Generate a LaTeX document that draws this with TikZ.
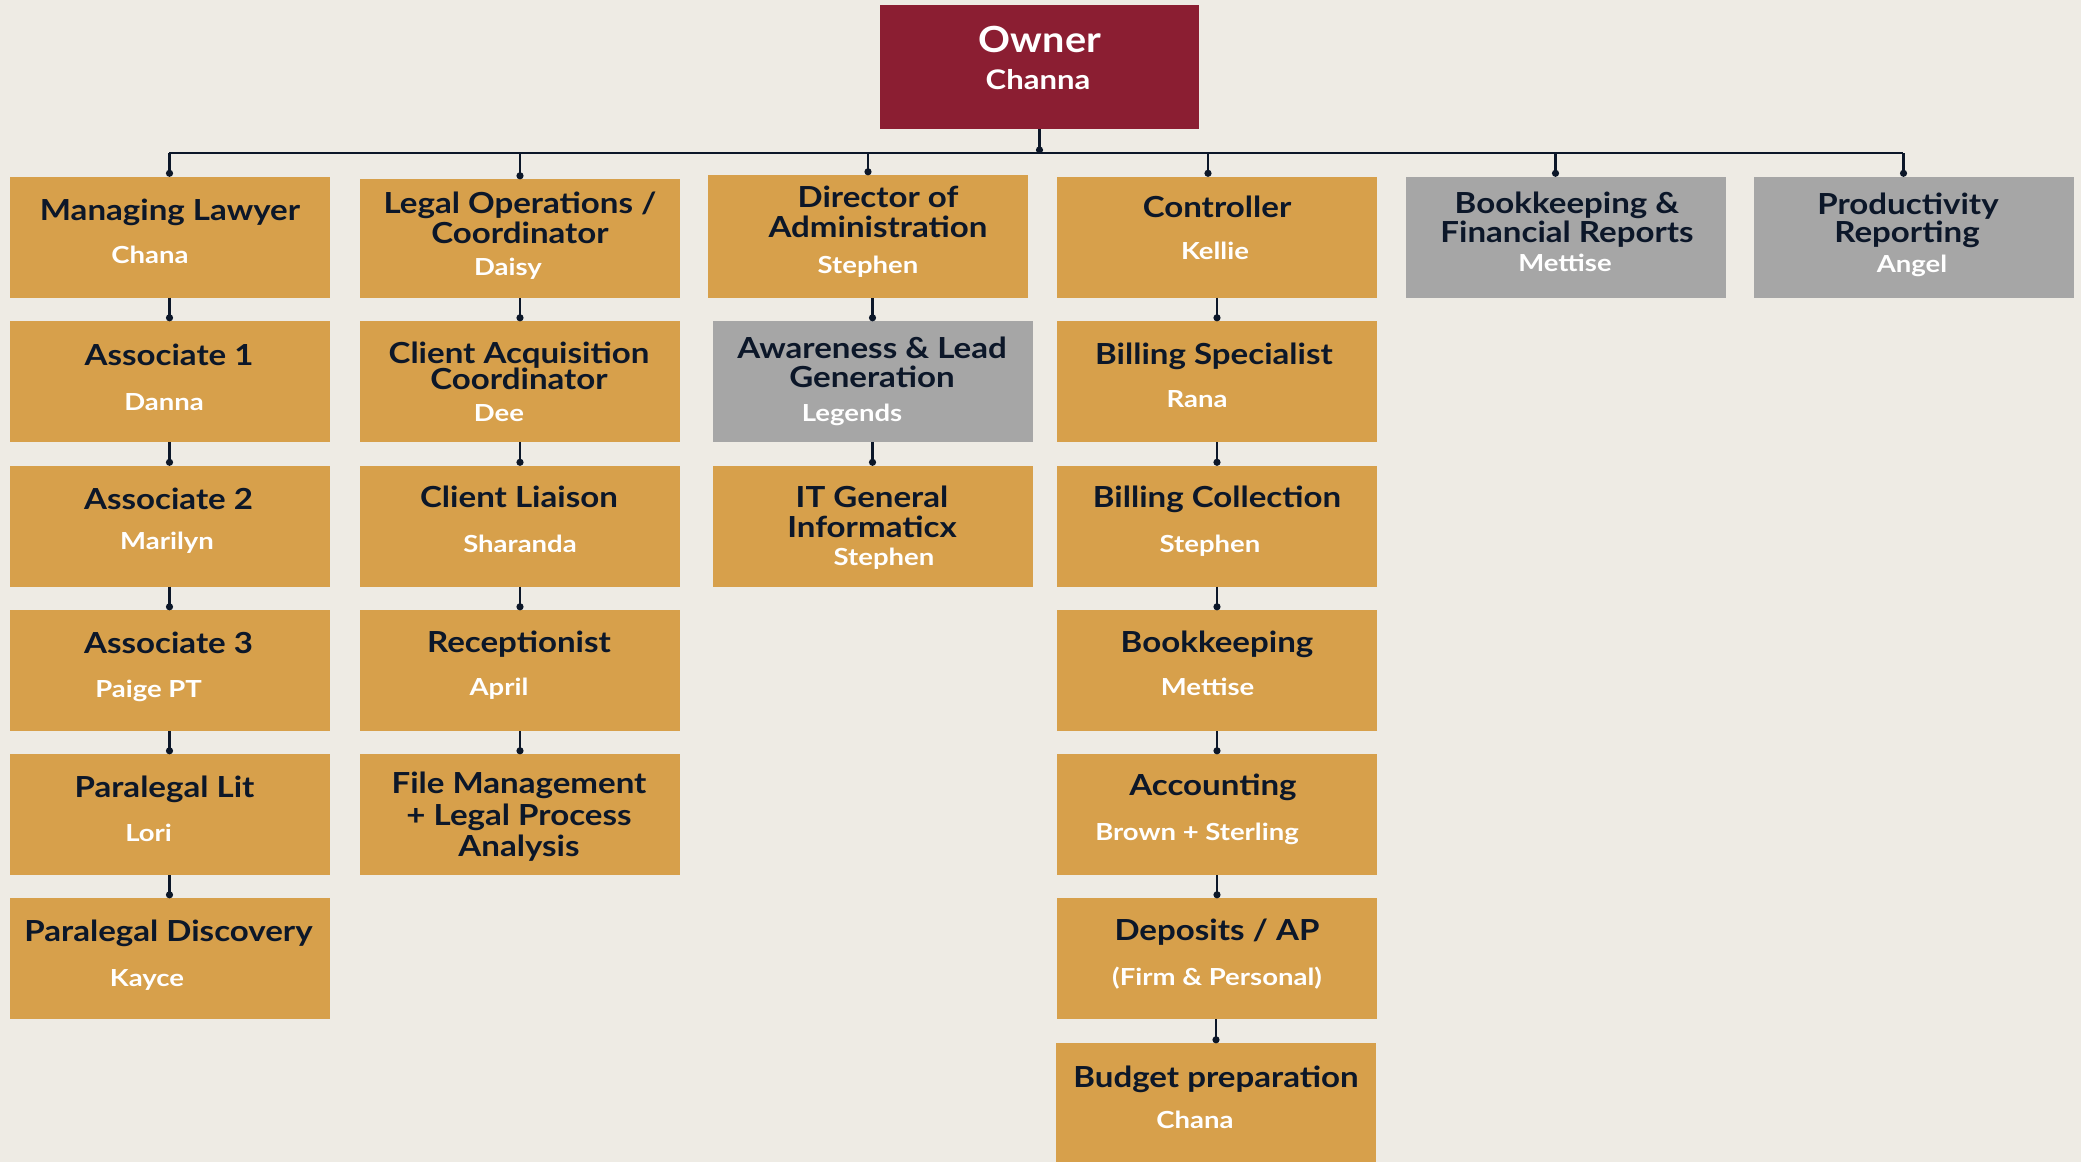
\documentclass[tikz,border=0pt]{standalone}
\usepackage{fontspec}
\setmainfont{Lato}
\newfontfamily\ttlfont[FakeStretch=1.14]{Lato}
\newfontfamily\nmfont[FakeStretch=1.17]{Lato}
\newfontfamily\owfont[FakeStretch=1.1]{Lato}
\newfontfamily\ownfont[FakeStretch=1.15]{Lato}
\usetikzlibrary{calc}
\definecolor{bg}{HTML}{EEEBE4}
\definecolor{gold}{HTML}{D7A04B}
\definecolor{crimson}{HTML}{8B1E32}
\definecolor{greybox}{HTML}{A6A6A6}
\definecolor{navy}{HTML}{0C1729}
\newcommand{\lbl}[4][ttl]{\node[#1] (#2) at (#3) {#4};}
\newcommand{\linkbox}[2]{\draw[conn] (#2.north |- #1.south) -- (#2.north);\fill[navy] ($(#2.north)+(0,-3)$) circle (3.6pt);}
\begin{document}
\begin{tikzpicture}[x=1pt,y=-1pt,
  box/.style={draw=none, inner sep=0pt, minimum width=320pt, minimum height=121pt},
  gbox/.style={box, fill=gold},
  ybox/.style={box, fill=greybox},
  rbox/.style={box, fill=crimson},
  ttl/.style={font=\ttlfont\bfseries\fontsize{29}{30}\selectfont, text=navy, anchor=base, inner sep=0pt, yshift=-10.3pt},
  nm/.style={font=\nmfont\bfseries\fontsize{23.5}{24}\selectfont, text=white, anchor=base, inner sep=0pt, yshift=-8.4pt},
  ownt/.style={font=\owfont\bfseries\fontsize{36}{38}\selectfont, text=white, anchor=base, inner sep=0pt, yshift=-12.8pt},
  ownn/.style={font=\ownfont\bfseries\fontsize{27}{28}\selectfont, text=white, anchor=base, inner sep=0pt, yshift=-9.7pt},
  conn/.style={draw=navy, line width=2.5pt}]
\fill[bg] (0,0) rectangle (2081,1162);
\useasboundingbox (0,0) rectangle (2081,1162);

% ---- boxes
\node[rbox, minimum width=319pt, minimum height=124pt] (ow) at (1039.5,67) {};
\node[gbox] (ml) at (169.5,237) {};
\node[gbox, minimum height=119pt] (lo) at (520,238.5) {};
\node[gbox, minimum height=123pt] (da) at (868,236.5) {};
\node[gbox] (co) at (1217,237) {};
\node[ybox] (bf) at (1565.5,237) {};
\node[ybox] (pr) at (1913.5,237) {};

\node[gbox] (a1) at (169.5,381.5) {};
\node[gbox] (ca) at (520,381.5) {};
\node[ybox] (aw) at (872.5,381.5) {};
\node[gbox] (bs) at (1217,381.5) {};

\node[gbox] (a2) at (169.5,526) {};
\node[gbox] (cl) at (520,526) {};
\node[gbox] (it) at (872.5,526) {};
\node[gbox] (bc) at (1217,526) {};

\node[gbox] (a3) at (169.5,670.5) {};
\node[gbox] (re) at (520,670.5) {};
\node[gbox] (bk) at (1217,670.5) {};

\node[gbox] (pl) at (169.5,814.5) {};
\node[gbox] (fm) at (520,814.5) {};
\node[gbox] (ac) at (1217,814.5) {};

\node[gbox] (pd) at (169.5,958.5) {};
\node[gbox] (dp) at (1217,958.5) {};

\node[gbox, minimum height=119pt] (bp) at (1216,1102.5) {};

% ---- connectors
\coordinate (busL) at (169,153);
\coordinate (busR) at (1903,153);
\draw[conn] (busL) -- (busR);
\draw[conn] (ow.south) -- (ow.south |- busL);
\fill[navy] ($(ow.south |- busL)+(0,-3)$) circle (3.6pt);
\coordinate (d-ml) at (ml.north);
\coordinate (d-lo) at (lo.north);
\coordinate (d-da) at (da.north);
\coordinate (d-co) at ($(co.north)+(-9,0)$);
\coordinate (d-bf) at ($(bf.north)+(-10,0)$);
\coordinate (d-pr) at ($(pr.north)+(-10,0)$);
\foreach \d in {d-ml,d-lo,d-da,d-co,d-bf,d-pr}{
  \draw[conn] (\d |- busL) -- (\d);
  \fill[navy] ($(\d)+(0,-3)$) circle (3.6pt);
}
\linkbox{ml}{a1}\linkbox{a1}{a2}\linkbox{a2}{a3}\linkbox{a3}{pl}\linkbox{pl}{pd}
\linkbox{lo}{ca}\linkbox{ca}{cl}\linkbox{cl}{re}\linkbox{re}{fm}
\linkbox{da}{aw}\linkbox{aw}{it}
\linkbox{co}{bs}\linkbox{bs}{bc}\linkbox{bc}{bk}\linkbox{bk}{ac}\linkbox{ac}{dp}\linkbox{dp}{bp}

% ---- texts
\lbl[ownt]{ow-t}{1040,40}{Owner}
\lbl[ownn]{ow-n}{1038,80}{Channa}

\lbl{ml-t}{170,210}{Managing Lawyer}
\lbl[nm]{ml-n}{150,255}{Chana}
\lbl{lo-t1}{520,203}{Legal Operations /}
\lbl{lo-t2}{520,233.5}{Coordinator}
\lbl[nm]{lo-n}{508,267}{Daisy}
\lbl{da-t1}{878,197}{Director of}
\lbl{da-t2}{878,227}{Administration}
\lbl[nm]{da-n}{868,265}{Stephen}
\lbl{co-t}{1217,207}{Controller}
\lbl[nm]{co-n}{1215,251}{Kellie}
\lbl{bf-t1}{1567,203}{Bookkeeping \&}
\lbl{bf-t2}{1567,232}{Financial Reports}
\lbl[nm]{bf-n}{1565,263}{Mettise}
\lbl{pr-t1}{1908,204}{Productivity}
\lbl{pr-t2}{1907,232}{Reporting}
\lbl[nm]{pr-n}{1912,264}{Angel}

\lbl{a1-t}{169,355}{Associate 1}
\lbl[nm]{a1-n}{164,402}{Danna}
\lbl{ca-t1}{519,353}{Client Acquisition}
\lbl{ca-t2}{519,379.5}{Coordinator}
\lbl[nm]{ca-n}{499,413}{Dee}
\lbl{aw-t1}{872,348}{Awareness \& Lead}
\lbl{aw-t2}{872,377}{Generation}
\lbl[nm]{aw-n}{852,413}{Legends}
\lbl{bs-t}{1214,354}{Billing Specialist}
\lbl[nm]{bs-n}{1197,399.5}{Rana}

\lbl{a2-t}{168.5,499}{Associate 2}
\lbl[nm]{a2-n}{167,541}{Marilyn}
\lbl{cl-t}{519,497.6}{Client Liaison}
\lbl[nm]{cl-n}{520,544}{Sharanda}
\lbl{it-t1}{872,497.6}{IT General}
\lbl{it-t2}{872,527}{Informaticx}
\lbl[nm]{it-n}{884,557}{Stephen}
\lbl{bc-t}{1217,497.6}{Billing Collection}
\lbl[nm]{bc-n}{1210,544}{Stephen}

\lbl{a3-t}{168.5,643.6}{Associate 3}
\lbl[nm]{a3-n}{148.6,688.7}{Paige PT}
\lbl{re-t}{519,642}{Receptionist}
\lbl[nm]{re-n}{499,687}{April}
\lbl{bk-t}{1217,642}{Bookkeeping}
\lbl[nm]{bk-n}{1207.6,687}{Mettise}

\lbl{pl-t}{164.5,787}{Paralegal Lit}
\lbl[nm]{pl-n}{148.6,833}{Lori}
\lbl{fm-t1}{519,783}{File Management}
\lbl{fm-t2}{519,815}{+ Legal Process}
\lbl{fm-t3}{519,846.6}{Analysis}
\lbl{ac-t}{1213,785.6}{Accounting}
\lbl[nm]{ac-n}{1197,832}{Brown + Sterling}

\lbl{pd-t}{168.5,931.6}{Paralegal Discovery}
\lbl[nm]{pd-n}{147,978}{Kayce}
\lbl{dp-t}{1217,930}{Deposits / AP}
\lbl[nm]{dp-n}{1217,977}{(Firm \& Personal)}

\lbl{bp-t}{1216,1077}{Budget preparation}
\lbl[nm]{bp-n}{1195,1120}{Chana}
\end{tikzpicture}
\end{document}
